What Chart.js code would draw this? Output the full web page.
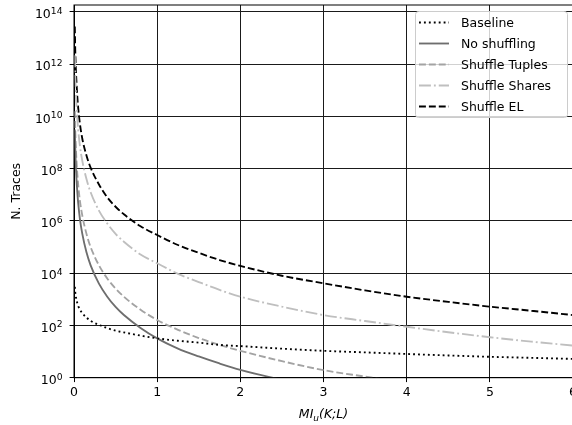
<!DOCTYPE html>
<html>
<head>
<meta charset="utf-8">
<title>N. Traces vs MI</title>
<script src="https://cdn.jsdelivr.net/npm/chart.js@4.4.1/dist/chart.umd.min.js"></script>
<style>
  html, body { margin: 0; padding: 0; background: #fff; overflow: hidden; }
  #wrap { width: 580px; height: 425px; }
</style>
</head>
<body>
<div id="wrap"><canvas id="chart" width="580" height="425"></canvas></div>
<script>
const FONT = "'DejaVu Sans', sans-serif";

// x values (MI_u(K;L)) where the curves were read
const mi = [0.01, 0.015, 0.02, 0.03, 0.04, 0.05, 0.07, 0.1, 0.15, 0.2, 0.3, 0.4, 0.5, 0.6, 0.8,
            1, 1.25, 1.5, 1.75, 2, 2.5, 3, 3.5, 4, 4.5, 5, 5.5, 6];

// number of traces (log scale)
const baseline = [3000, 1900, 1400, 950, 710, 560, 410, 295, 200, 150, 105, 79, 63, 54, 41,
                  32, 26, 22, 18, 16.2, 12.9, 10.7, 9.3, 8.1, 7.1, 6.3, 5.75, 5.25];
const noShuffling = [3.2e9, 6.3e8, 2e8, 4e7, 1.26e7, 5e6, 1.26e6, 3.2e5, 6.3e4, 2e4, 4e3, 1.26e3, 510, 250, 80,
                     32, 13, 6.5, 3.5, 2, 0.83, 0.4];
const shuffleTuples = [1.6e10, 3.2e9, 1e9, 2e8, 6.3e7, 2.5e7, 6.3e6, 1.6e6, 3.2e5, 1e5, 2e4, 6.3e3, 2.6e3, 1.26e3, 400,
                       162, 68, 33, 18, 10.7, 4.3, 1.95, 1.1, 0.63];
const shuffleShares = [2.2e12, 4e11, 1.26e11, 2.5e10, 8e9, 3.2e9, 8e8, 2e8, 4e7, 1.26e7, 2.5e6, 8e5, 3.2e5, 1.6e5, 5.2e4,
                       2.4e4, 9.5e3, 4.6e3, 2.3e3, 1.26e3, 525, 250, 148, 89, 55, 35.5, 24, 17];
const shuffleEL = [2.8e13, 3.5e12, 1e12, 2e11, 5.6e10, 2.2e10, 5.6e9, 1.4e9, 3.2e8, 1.1e8, 2.5e7, 8e6, 3.5e6, 1.8e6, 6.3e5,
                   2.9e5, 1.2e5, 6e4, 3.2e4, 1.9e4, 8e3, 4.1e3, 2.2e3, 1.26e3, 800, 525, 365, 250];

const yTickPowers = [0, 2, 4, 6, 8, 10, 12, 14];
const xTicks = [0, 1, 2, 3, 4, 5, 6];

const LW = 1.86;
const toPoints = (arr) => arr.map((v, i) => ({ x: mi[i], y: v }));

const series = (label, arr, color, dash) => ({
  label: label,
  data: toPoints(arr),
  borderColor: color,
  backgroundColor: color,
  borderWidth: LW,
  borderDash: dash,
  pointRadius: 0,
  fill: false,
  cubicInterpolationMode: "monotone",
});

// y tick labels as 10 with a raised exponent
const powerLabels = {
  id: "powerLabels",
  afterDraw(chart) {
    const ctx = chart.ctx;
    const y = chart.scales.y;
    const right = y.right - 11.5;
    ctx.save();
    ctx.fillStyle = "#000";
    ctx.textBaseline = "alphabetic";
    ctx.textAlign = "left";
    yTickPowers.forEach((p) => {
      const py = y.getPixelForValue(Math.pow(10, p));
      ctx.font = "9.2px " + FONT;
      const we = ctx.measureText(String(p)).width;
      ctx.font = "12.5px " + FONT;
      const wm = ctx.measureText("10").width;
      ctx.fillText("10", right - we - wm, py + 6.2);
      ctx.font = "9.2px " + FONT;
      ctx.fillText(String(p), right - we, py + 2);
    });
    ctx.restore();
  },
};

// legend like matplotlib's, top right inside the axes
const legendBox = {
  id: "legendBox",
  afterDraw(chart) {
    const ctx = chart.ctx;
    const x0 = 415, y0 = 11, w = 152, h = 106;
    ctx.save();
    ctx.beginPath();
    ctx.roundRect(x0 + 0.5, y0 + 0.5, w, h, 3);
    ctx.fillStyle = "rgba(255,255,255,0.8)";
    ctx.fill();
    ctx.strokeStyle = "#cccccc";
    ctx.lineWidth = 1;
    ctx.stroke();
    chart.data.datasets.forEach((ds, i) => {
      const y = 22.5 + i * 21;
      ctx.beginPath();
      ctx.setLineDash(ds.borderDash || []);
      ctx.strokeStyle = ds.borderColor;
      ctx.lineWidth = LW;
      ctx.moveTo(419, y);
      ctx.lineTo(449, y);
      ctx.stroke();
      ctx.setLineDash([]);
      ctx.fillStyle = "#000";
      ctx.font = "12.5px " + FONT;
      ctx.textBaseline = "middle";
      ctx.textAlign = "left";
      ctx.fillText(ds.label, 461, y + 1);
    });
    ctx.restore();
  },
};

// spines on all sides and the x title with a subscript
const frameAndTitle = {
  id: "frameAndTitle",
  afterDatasetsDraw(chart) {
    const { ctx, chartArea } = chart;
    ctx.save();
    ctx.strokeStyle = "#000";
    ctx.lineWidth = 1;
    ctx.strokeRect(chartArea.left, chartArea.top, chartArea.right - chartArea.left, chartArea.bottom - chartArea.top);
    ctx.restore();
  },
  afterDraw(chart) {
    const { ctx, chartArea } = chart;
    const cx = (chartArea.left + chartArea.right) / 2;
    const base = 417.5;
    const big = "italic 12.5px " + FONT;
    const small = "italic 9px " + FONT;
    ctx.save();
    ctx.fillStyle = "#000";
    ctx.textBaseline = "alphabetic";
    ctx.textAlign = "left";
    ctx.font = big;
    const w1 = ctx.measureText("MI").width;
    const w3 = ctx.measureText("(K;L)").width;
    ctx.font = small;
    const w2 = ctx.measureText("u").width;
    let x = cx - (w1 + w2 + w3) / 2;
    ctx.font = big;
    ctx.fillText("MI", x, base);
    x += w1;
    ctx.font = small;
    ctx.fillText("u", x, base + 3);
    x += w2;
    ctx.font = big;
    ctx.fillText("(K;L)", x, base);
    ctx.restore();
  },
};

new Chart(document.getElementById("chart").getContext("2d"), {
  type: "line",
  data: {
    datasets: [
      series("Baseline", baseline, "#000000", [1.86, 3.07]),
      series("No shuffling", noShuffling, "#6e6e6e", []),
      series("Shuffle Tuples", shuffleTuples, "#a3a3a3", [6.9, 3]),
      series("Shuffle Shares", shuffleShares, "#bfbfbf", [11.9, 3, 1.86, 3]),
      series("Shuffle EL", shuffleEL, "#000000", [6.9, 3]),
    ],
  },
  options: {
    responsive: false,
    animation: false,
    devicePixelRatio: 1,
    layout: { padding: { left: 0, top: 5, right: 6, bottom: 0 } },
    plugins: {
      legend: { display: false },
      tooltip: { enabled: false },
    },
    scales: {
      x: {
        type: "linear",
        min: 0,
        max: 6,
        afterFit(scale) { scale.height = 47.3; },
        afterBuildTicks(scale) { scale.ticks = xTicks.map(v => ({ value: v })); },
        ticks: {
          color: "#000",
          padding: 3,
          font: { family: FONT, size: 12.5 },
          callback: (v) => String(v),
        },
        grid: { color: "#1a1a1a", lineWidth: 1, tickLength: 4.4, tickColor: "#000" },
        border: { color: "#000", width: 1 },
      },
      y: {
        type: "logarithmic",
        min: 1,
        max: 1.85e14,
        afterFit(scale) { scale.width = 74; },
        afterBuildTicks(scale) { scale.ticks = yTickPowers.map(p => ({ value: Math.pow(10, p) })); },
        ticks: { display: false },
        grid: { color: "#1a1a1a", lineWidth: 1, tickLength: 4.4, tickColor: "#000" },
        border: { color: "#000", width: 1 },
        title: {
          display: true,
          text: "N. Traces",
          color: "#000",
          font: { family: FONT, size: 12.5 },
          padding: { top: 9.5, bottom: 0 },
        },
      },
    },
  },
  plugins: [frameAndTitle, powerLabels, legendBox],
});
</script>
</body>
</html>
